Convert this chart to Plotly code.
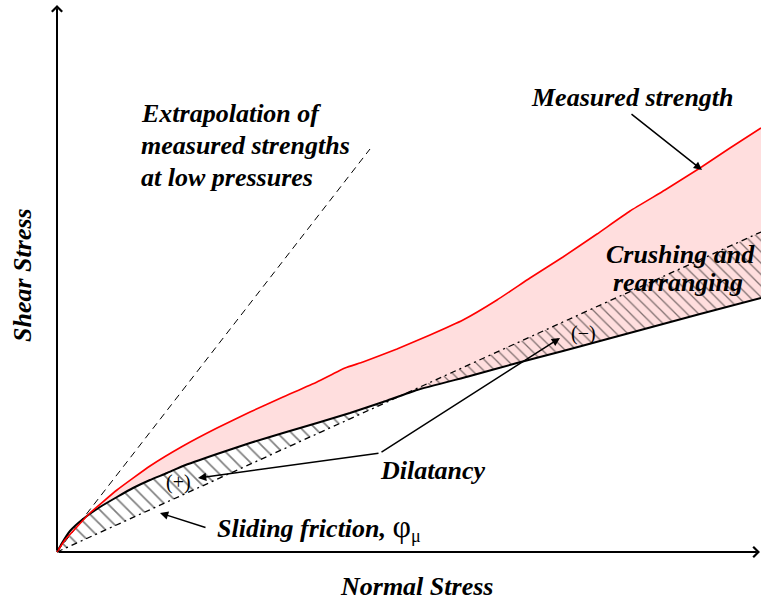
import plotly.graph_objects as go

# Measured strength envelope (normal stress, shear stress)
red_n = [0.00, 0.08, 0.18, 0.33, 0.60, 0.93, 1.26, 1.60, 1.93, 2.26, 2.60, 2.88, 3.06,
         3.40, 3.73, 4.06, 4.40, 4.73, 5.06, 5.40, 5.73, 6.08, 6.43, 6.73, 7.04]
red_s = [0.00, 0.12, 0.23, 0.39, 0.62, 0.86, 1.06, 1.24, 1.40, 1.55, 1.70, 1.84, 1.90,
         2.03, 2.17, 2.32, 2.52, 2.74, 2.95, 3.18, 3.41, 3.62, 3.84, 4.04, 4.24]

# Frictional strength including dilatancy / crushing
blk_n = [0.00, 0.05, 0.13, 0.26, 0.43, 0.60, 0.76, 0.93, 1.10, 1.26, 1.60, 1.93, 2.26,
         2.60, 2.93, 3.26, 3.60, 4.13, 4.60, 5.06, 5.43, 6.06, 6.43, 7.04]
blk_s = [0.00, 0.09, 0.21, 0.33, 0.45, 0.55, 0.64, 0.72, 0.79, 0.86, 0.98, 1.09, 1.19,
         1.29, 1.39, 1.50, 1.62, 1.76, 1.89, 2.01, 2.11, 2.28, 2.38, 2.54]

# Sliding friction line and low-pressure extrapolation
fric_n = [0.00, 7.04]
fric_s = [0.00, 3.20]
extr_n = [0.00, 3.13]
extr_s = [0.00, 4.03]

mu = fric_s[1] / fric_n[1]


def fric(x):
    return mu * x


# locate where the dilatancy curve crosses the sliding-friction line
xc, yc, ic = None, None, None
for i in range(1, len(blk_n)):
    d0 = blk_s[i - 1] - fric(blk_n[i - 1])
    d1 = blk_s[i] - fric(blk_n[i])
    if i > 1 and d0 > 0 and d1 <= 0:
        t = d0 / (d0 - d1)
        xc = blk_n[i - 1] + t * (blk_n[i] - blk_n[i - 1])
        yc = fric(xc)
        ic = i
        break

pos_x = blk_n[:ic] + [xc, 0.0]
pos_y = blk_s[:ic] + [yc, 0.0]
neg_x = [xc, fric_n[1]] + blk_n[ic:][::-1] + [xc]
neg_y = [yc, fric_s[1]] + blk_s[ic:][::-1] + [yc]

fig = go.Figure()

# pink band between measured strength and frictional curve
fig.add_trace(go.Scatter(
    x=red_n + blk_n[::-1], y=red_s + blk_s[::-1], fill="toself",
    fillcolor="#ffdede", line=dict(width=0), mode="lines", hoverinfo="skip"))

hatch = dict(shape="\\", size=10, solidity=0.17, fgcolor="black",
             bgcolor="rgba(0,0,0,0)")
fig.add_trace(go.Scatter(
    x=pos_x, y=pos_y, fill="toself", fillcolor="rgba(0,0,0,0)",
    fillpattern=hatch, line=dict(width=0), mode="lines", hoverinfo="skip"))
fig.add_trace(go.Scatter(
    x=neg_x, y=neg_y, fill="toself", fillcolor="rgba(0,0,0,0)",
    fillpattern=dict(hatch, size=8, solidity=0.16), line=dict(width=0), mode="lines",
    hoverinfo="skip"))

fig.add_trace(go.Scatter(x=fric_n, y=fric_s, mode="lines",
                         line=dict(color="black", width=1.3, dash="6px,4px,2px,4px")))
fig.add_trace(go.Scatter(x=extr_n, y=extr_s, mode="lines",
                         line=dict(color="black", width=1, dash="7px,5px")))
fig.add_trace(go.Scatter(x=blk_n, y=blk_s, mode="lines",
                         line=dict(color="black", width=2, shape="spline", smoothing=0.4)))
fig.add_trace(go.Scatter(x=red_n, y=red_s, mode="lines",
                         line=dict(color="red", width=1.6, shape="spline", smoothing=0.4)))

serif = "Liberation Serif, Times New Roman, serif"
anns = []


def label(text, x, y, size=26, xanchor="center", angle=0):
    anns.append(dict(x=x, y=y, text=text, showarrow=False, xanchor=xanchor,
                     yanchor="middle", textangle=angle,
                     font=dict(family=serif, size=size, color="black")))


def arrow(x, y, ax, ay, head=2, size=1.1, width=1.5):
    anns.append(dict(x=x, y=y, ax=ax, ay=ay, xref="x", yref="y", axref="x",
                     ayref="y", text="", showarrow=True, arrowhead=head,
                     arrowsize=size, arrowwidth=width, arrowcolor="black",
                     standoff=0, startstandoff=0))


# axes with arrowheads
arrow(0.0, 5.47, 0.0, 0.0, head=4, size=1.0, width=2)
arrow(7.03, 0.0, 0.0, 0.0, head=4, size=1.0, width=2)

label("<b><i>Extrapolation of</i></b>", 0.82, 4.39, xanchor="left")
label("<b><i>measured strengths</i></b>", 0.82, 4.07, xanchor="left")
label("<b><i>at low pressures</i></b>", 0.82, 3.75, xanchor="left")
label("<b><i>Measured strength</i></b>", 5.75, 4.55)
label("<b><i>Crushing and</i></b>", 6.23, 2.98)
label("<b><i>rearranging</i></b>", 6.21, 2.70)
label("<b><i>Dilatancy</i></b>", 3.75, 0.82)
label("<b><i>Sliding friction,</i></b> "
      "<span style='font-size:32px'>φ</span><sub>μ</sub>",
      1.58, 0.25, xanchor="left")
label("(+)", 1.21, 0.70, size=20)
label("(−)", 5.26, 2.19, size=20)
label("<b><i>Shear Stress</i></b>", -0.35, 2.77, angle=-90)
label("<b><i>Normal Stress</i></b>", 3.59, -0.34)

# pointers
arrow(6.45, 3.82, 5.73, 4.39)
arrow(1.41, 0.74, 3.23, 0.99)
arrow(5.03, 2.14, 3.23, 0.99)
arrow(1.03, 0.39, 1.50, 0.24)

fig.update_layout(
    width=761, height=601, margin=dict(l=0, r=0, t=0, b=0),
    paper_bgcolor="white", plot_bgcolor="white", showlegend=False,
    xaxis=dict(range=[-0.57, 7.04], visible=False, fixedrange=True),
    yaxis=dict(range=[-0.49, 5.52], visible=False, fixedrange=True),
    annotations=anns,
)

fig.write_html("out.html")
